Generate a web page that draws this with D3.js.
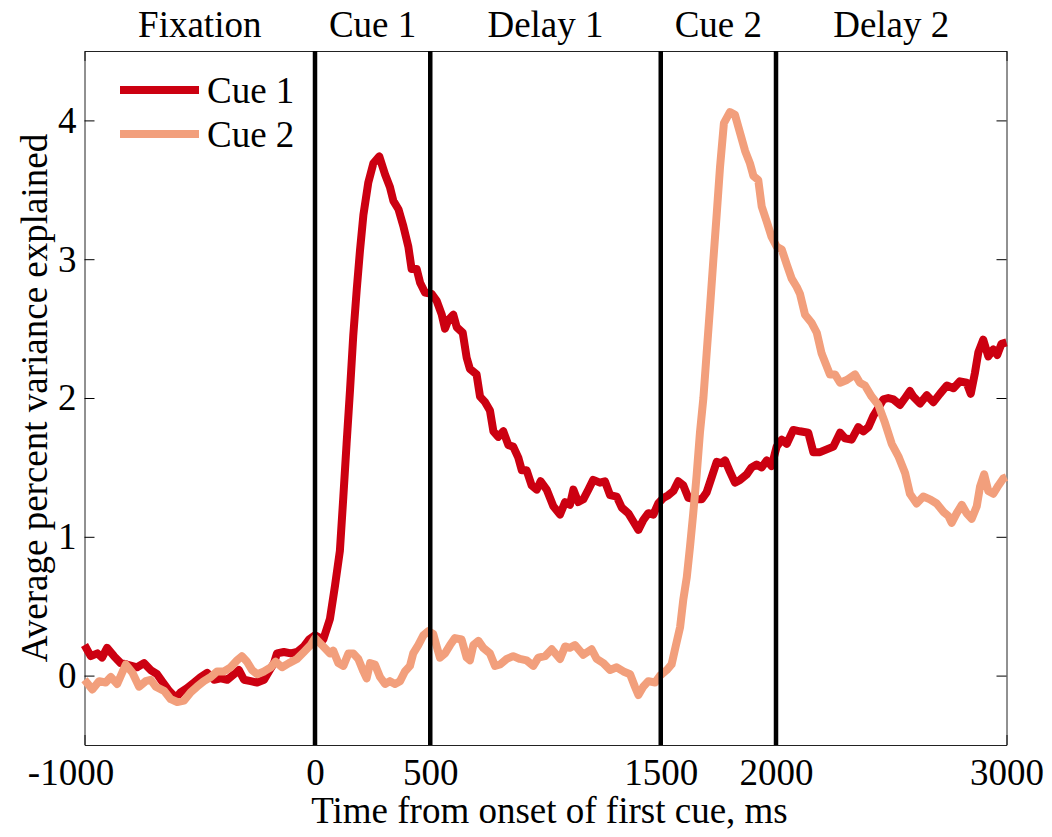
<!DOCTYPE html>
<html>
<head>
<meta charset="utf-8">
<script src="https://cdn.jsdelivr.net/npm/d3@7"></script>
<style>
  body { margin: 0; background: #fff; }
  text { font-family: "Liberation Serif", "Times New Roman", serif; }
</style>
</head>
<body>
<div class="chart"></div>
<script>
// Chart data
var cue1Time = [-1000,-973,-944,-924,-902,-872,-843,-816,-772,-742,-713,-685,-664,-633,-604,-583,-555,-525,-496,-468,-438,-409,-381,-351,-330,-308,-279,-251,-221,-200,-178,-165,-135,-105,-78,-48,-26,0,36,65,87,108,123,137,152,166,181,195,210,231,253,279,304,325,340,362,383,405,419,441,456,477,506,528,550,564,578,600,615,641,658,672,701,716,738,759,774,795,817,839,860,882,897,918,940,962,979,1005,1034,1063,1085,1106,1121,1142,1164,1186,1207,1236,1258,1280,1309,1331,1359,1381,1403,1424,1446,1468,1489,1511,1533,1555,1576,1598,1620,1649,1678,1699,1721,1743,1764,1779,1800,1822,1844,1873,1894,1916,1938,1960,1981,2003,2025,2047,2075,2104,2140,2162,2191,2220,2249,2278,2299,2328,2357,2379,2401,2422,2444,2466,2487,2509,2538,2560,2581,2596,2625,2654,2683,2711,2741,2770,2798,2827,2845,2863,2878,2899,2921,2943,2960,2978,3000];
var cue1Value = [0.22,0.14,0.16,0.13,0.20,0.14,0.09,0.08,0.06,0.09,0.04,0.01,-0.04,-0.11,-0.16,-0.12,-0.09,-0.05,-0.01,0.02,-0.03,-0.02,-0.03,0.01,0.04,-0.03,-0.04,-0.05,-0.03,0.03,0.09,0.16,0.17,0.16,0.17,0.21,0.26,0.29,0.26,0.41,0.65,0.90,1.29,1.67,2.06,2.45,2.78,3.06,3.32,3.55,3.69,3.74,3.61,3.52,3.42,3.36,3.24,3.09,2.93,2.93,2.83,2.76,2.75,2.70,2.60,2.50,2.56,2.60,2.51,2.47,2.29,2.21,2.17,2.01,1.97,1.91,1.76,1.72,1.76,1.66,1.65,1.57,1.48,1.48,1.37,1.34,1.40,1.34,1.22,1.16,1.25,1.23,1.34,1.25,1.27,1.34,1.41,1.39,1.40,1.30,1.29,1.21,1.17,1.11,1.05,1.12,1.17,1.16,1.24,1.28,1.30,1.33,1.40,1.37,1.28,1.27,1.27,1.32,1.43,1.54,1.53,1.55,1.47,1.39,1.41,1.45,1.50,1.52,1.50,1.55,1.51,1.65,1.70,1.67,1.77,1.76,1.75,1.61,1.61,1.63,1.65,1.75,1.71,1.70,1.79,1.76,1.79,1.87,1.93,1.99,2.00,1.99,1.95,2.00,2.05,2.01,1.96,2.02,1.97,2.03,2.09,2.07,2.12,2.11,2.03,2.18,2.33,2.42,2.30,2.35,2.31,2.39,2.40];

var cue2Time = [-1000,-966,-937,-908,-886,-858,-821,-792,-763,-734,-713,-691,-655,-626,-598,-568,-539,-512,-482,-452,-425,-395,-366,-338,-317,-295,-273,-251,-221,-192,-171,-143,-113,-78,-48,-19,0,36,65,79,101,123,145,166,188,210,224,239,260,282,304,325,347,369,390,412,426,448,470,492,513,528,542,564,586,607,636,658,672,687,709,730,759,781,803,832,860,889,918,947,969,998,1027,1063,1085,1106,1128,1164,1200,1222,1251,1280,1309,1338,1367,1388,1403,1424,1446,1475,1497,1526,1547,1562,1584,1598,1613,1627,1641,1656,1670,1685,1699,1714,1728,1743,1757,1774,1800,1822,1844,1866,1887,1902,1923,1938,1960,1981,2003,2025,2047,2068,2090,2104,2126,2155,2177,2198,2234,2256,2278,2307,2343,2364,2386,2415,2444,2473,2502,2531,2560,2581,2610,2639,2668,2697,2726,2748,2762,2784,2806,2827,2849,2871,2885,2903,2921,2943,2965,2986,3000];
var cue2Value = [-0.03,-0.10,-0.04,-0.05,-0.01,-0.06,0.08,0.02,-0.08,-0.04,-0.03,-0.08,-0.11,-0.17,-0.19,-0.18,-0.12,-0.08,-0.04,-0.01,0.03,0.03,0.06,0.11,0.14,0.10,0.04,0.01,0.03,0.06,0.10,0.06,0.09,0.12,0.17,0.22,0.27,0.21,0.16,0.18,0.09,0.07,0.16,0.16,0.12,0.03,-0.02,0.09,0.08,-0.01,-0.06,-0.04,-0.06,-0.04,0.03,0.07,0.16,0.22,0.29,0.32,0.30,0.21,0.13,0.16,0.22,0.27,0.26,0.13,0.11,0.22,0.25,0.20,0.16,0.07,0.08,0.12,0.14,0.12,0.11,0.07,0.13,0.14,0.19,0.12,0.21,0.20,0.22,0.15,0.19,0.12,0.09,0.04,0.06,0.03,0.01,-0.08,-0.14,-0.08,-0.04,-0.05,0.0,0.04,0.08,0.19,0.35,0.55,0.71,0.93,1.17,1.45,1.75,2.00,2.32,2.66,2.99,3.33,3.66,3.98,4.06,4.04,3.91,3.78,3.69,3.60,3.57,3.38,3.27,3.16,3.09,3.07,2.96,2.86,2.80,2.75,2.60,2.54,2.47,2.32,2.17,2.17,2.11,2.13,2.17,2.11,2.09,2.01,1.95,1.82,1.67,1.58,1.46,1.31,1.24,1.29,1.27,1.24,1.18,1.15,1.10,1.17,1.23,1.17,1.13,1.22,1.36,1.45,1.33,1.31,1.37,1.42,1.43];

var seriesNames = ["Cue 1", "Cue 2"];
var eventTimes = [0, 500, 1500, 2000];
var epochNames = ["Fixation", "Cue 1", "Delay 1", "Cue 2", "Delay 2"];
var epochCenters = [-500, 250, 1000, 1750, 2500];
var xTicks = [-1000, 0, 500, 1500, 2000, 3000];
var yTicks = [0, 1, 2, 3, 4];

var colors = ["#cc0011", "#f29f7c"];
var fontSize = 37;

// SVG area
var svgWidth = 1052;
var svgHeight = 837;
var margin = {top: 51, right: 45.5, bottom: 92, left: 84.5};
var width = svgWidth - margin.left - margin.right;
var height = svgHeight - margin.top - margin.bottom;

var svg = d3.select(".chart")
    .append("svg")
    .attr("width", svgWidth)
    .attr("height", svgHeight);

var chartGroup = svg.append("g")
    .attr("transform", "translate(" + margin.left + "," + margin.top + ")");

// scales
var xScale = d3.scaleLinear().domain([-1000, 3000]).range([0, width]);
var yScale = d3.scaleLinear().domain([-0.5, 4.5]).range([height, 0]);

// plain number labels, hyphen for minus like the original
var plain = d => String(d);

// axes, ticks pointing inward like the original
function styleAxis(g) {
    g.attr("font-family", "Liberation Serif, Times New Roman, serif")
     .attr("font-size", fontSize);
    g.selectAll("text").attr("fill", "#000");
    g.selectAll("line").attr("stroke", "#000");
    g.select(".domain").attr("stroke", "#222");
}

chartGroup.append("g")
    .attr("transform", `translate(0, ${height})`)
    .call(d3.axisBottom(xScale).tickValues(xTicks).tickFormat(plain)
        .tickSizeInner(-10).tickSizeOuter(0).tickPadding(14))
    .call(styleAxis)
    .selectAll("text")
    .attr("dx", d => d === -1000 ? -14 : 0);

chartGroup.append("g")
    .call(d3.axisTop(xScale).tickValues(xTicks).tickSizeInner(-10).tickSizeOuter(0).tickFormat(""))
    .call(styleAxis);

chartGroup.append("g")
    .call(d3.axisLeft(yScale).tickValues(yTicks).tickFormat(plain)
        .tickSizeInner(-10).tickSizeOuter(0).tickPadding(8))
    .call(styleAxis);

chartGroup.append("g")
    .attr("transform", `translate(${width}, 0)`)
    .call(d3.axisRight(yScale).tickValues(yTicks).tickSizeInner(-10).tickSizeOuter(0).tickFormat(""))
    .call(styleAxis);

// curves
var line = d3.line()
    .x(d => xScale(d[0]))
    .y(d => yScale(d[1]));

var cue1 = d3.zip(cue1Time, cue1Value);
var cue2 = d3.zip(cue2Time, cue2Value);

[cue1, cue2].forEach(function(data, i) {
    chartGroup.append("path")
        .datum(data)
        .attr("d", line)
        .attr("fill", "none")
        .attr("stroke", colors[i])
        .attr("stroke-width", 8)
        .attr("stroke-linejoin", "round");
});

// event markers
chartGroup.selectAll(".event")
    .data(eventTimes)
    .enter()
    .append("line")
    .attr("x1", d => xScale(d))
    .attr("x2", d => xScale(d))
    .attr("y1", 0)
    .attr("y2", height)
    .attr("stroke", "#000")
    .attr("stroke-width", 4.5);

// epoch labels above the plot
chartGroup.selectAll(".epoch")
    .data(epochNames)
    .enter()
    .append("text")
    .attr("x", (d, i) => xScale(epochCenters[i]))
    .attr("y", -14.5)
    .attr("text-anchor", "middle")
    .attr("font-size", fontSize)
    .text(d => d);

// legend
var legend = chartGroup.selectAll(".legend")
    .data(seriesNames)
    .enter()
    .append("g")
    .attr("transform", (d, i) => `translate(0, ${39 + i * 44})`);

legend.append("line")
    .attr("x1", 35.5)
    .attr("x2", 114.5)
    .attr("stroke", (d, i) => colors[i])
    .attr("stroke-width", 8);

legend.append("text")
    .attr("x", 122.5)
    .attr("y", 13)
    .attr("font-size", fontSize)
    .text(d => d);

// axis labels
chartGroup.append("text")
    .attr("transform", `translate(${-38}, ${height / 2}) rotate(-90)`)
    .attr("text-anchor", "middle")
    .attr("font-size", fontSize)
    .text("Average percent variance explained");

chartGroup.append("text")
    .attr("x", width / 2 + 4)
    .attr("y", height + 78)
    .attr("text-anchor", "middle")
    .attr("font-size", fontSize)
    .text("Time from onset of first cue, ms");
</script>
</body>
</html>
